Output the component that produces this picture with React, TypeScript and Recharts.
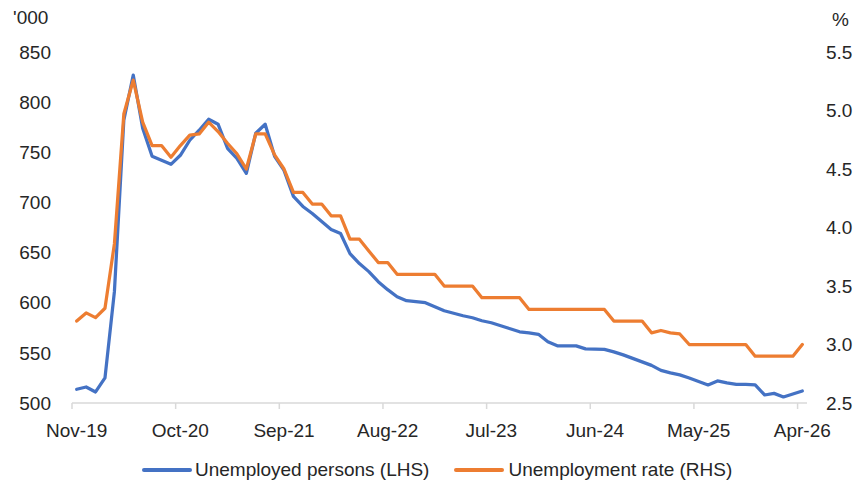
import { LineChart, Line, XAxis, YAxis } from "recharts"

const months = [
  "Nov-19", "Dec-19",
  "Jan-20", "Feb-20", "Mar-20", "Apr-20", "May-20", "Jun-20", "Jul-20", "Aug-20", "Sep-20", "Oct-20", "Nov-20", "Dec-20",
  "Jan-21", "Feb-21", "Mar-21", "Apr-21", "May-21", "Jun-21", "Jul-21", "Aug-21", "Sep-21", "Oct-21", "Nov-21", "Dec-21",
  "Jan-22", "Feb-22", "Mar-22", "Apr-22", "May-22", "Jun-22", "Jul-22", "Aug-22", "Sep-22", "Oct-22", "Nov-22", "Dec-22",
  "Jan-23", "Feb-23", "Mar-23", "Apr-23", "May-23", "Jun-23", "Jul-23", "Aug-23", "Sep-23", "Oct-23", "Nov-23", "Dec-23",
  "Jan-24", "Feb-24", "Mar-24", "Apr-24", "May-24", "Jun-24", "Jul-24", "Aug-24", "Sep-24", "Oct-24", "Nov-24", "Dec-24",
  "Jan-25", "Feb-25", "Mar-25", "Apr-25", "May-25", "Jun-25", "Jul-25", "Aug-25", "Sep-25", "Oct-25", "Nov-25", "Dec-25",
  "Jan-26", "Feb-26", "Mar-26", "Apr-26",
]

// thousands of persons (left axis)
const unemployed = [
  513.7, 516, 511, 525, 611, 782, 827, 774, 746, 742,
  738, 747, 762, 772, 783, 778, 754, 744, 729, 769,
  778, 746, 732, 706, 696, 689, 681, 673, 669, 649,
  639, 631, 621, 613, 606, 602, 601, 600, 596, 592,
  589.5, 587, 585, 582, 580, 577, 574, 571, 570, 568.5,
  561, 557, 557, 557, 554, 553.7, 553.5, 551, 548, 544.5,
  541, 537.5, 532.5, 530, 528, 525, 521.5, 518, 522, 520,
  518.5, 518.5, 518, 508, 509.6, 506, 509, 512,
]

// per cent (right axis)
const rate = [
  3.2, 3.27, 3.23, 3.31, 3.86, 4.97, 5.26, 4.9, 4.7, 4.7,
  4.6, 4.7, 4.79, 4.8, 4.9, 4.82, 4.72, 4.63, 4.5, 4.8,
  4.8, 4.62, 4.5, 4.3, 4.3, 4.2, 4.2, 4.1, 4.1, 3.9,
  3.9, 3.8, 3.7, 3.7, 3.6, 3.6, 3.6, 3.6, 3.6, 3.5,
  3.5, 3.5, 3.5, 3.4, 3.4, 3.4, 3.4, 3.4, 3.3, 3.3,
  3.3, 3.3, 3.3, 3.3, 3.3, 3.3, 3.3, 3.2, 3.2, 3.2,
  3.2, 3.1, 3.12, 3.1, 3.09, 3.0, 3.0, 3.0, 3.0, 3.0,
  3.0, 3.0, 2.9, 2.9, 2.9, 2.9, 2.9, 3.0,
]

const xTicks = [0, 11, 22, 33, 44, 55, 66, 77]
const leftTicks = [500, 550, 600, 650, 700, 750, 800, 850]
const rightTicks = [2.5, 3.0, 3.5, 4.0, 4.5, 5.0, 5.5]

const data = months.map((m, i) => ({ idx: i, month: m, persons: unemployed[i], rate: rate[i] }))

const W = 861
const H = 485
const LEFT_W = 72
const RIGHT_W = 54
const STEP = (W - LEFT_W - RIGHT_W) / months.length

const FONT = "'Liberation Sans', Arial, sans-serif"
const TEXT = "#262626"
const AXIS = "#d9d9d9"
const BLUE = "#4472C4"
const ORANGE = "#ED7D31"

// label sits under the month, tick mark sits on the boundary before it (Excel style)
function MonthTick(props: any) {
  const { x, y, payload } = props
  const tx = x - STEP / 2
  return (
    <g>
      <line x1={tx} x2={tx} y1={y} y2={y + 6} stroke={AXIS} strokeWidth={1.5} />
      <text x={x} y={y + 34} textAnchor="middle" fill={TEXT} fontSize={19} fontFamily={FONT}>
        {months[payload.value]}
      </text>
    </g>
  )
}

const unitLabel = (txt: string, x: number, y: number) => () => (
  <text x={x} y={y} fill={TEXT} fontSize={19} fontFamily={FONT}>
    {txt}
  </text>
)

export default function App() {
  return (
    <div style={{ position: "absolute", left: 0, top: 0, width: W, height: H, background: "#fff" }}>
      <LineChart width={W} height={H} data={data} margin={{ top: 52, right: 0, bottom: 42, left: 0 }}>
        <XAxis
          dataKey="idx"
          type="number"
          domain={[-0.5, months.length - 0.5]}
          ticks={xTicks}
          interval={0}
          height={40}
          axisLine={{ stroke: AXIS, strokeWidth: 1.5 }}
          tickLine={false}
          tickSize={0}
          tickMargin={0}
          tick={<MonthTick />}
        />
        <YAxis
          yAxisId="left"
          orientation="left"
          width={LEFT_W}
          domain={[500, 850]}
          ticks={leftTicks}
          interval={0}
          axisLine={false}
          tickLine={false}
          tickSize={0}
          tickMargin={21}
          tick={{ fill: TEXT, fontSize: 19, fontFamily: FONT }}
          label={unitLabel("'000", 13, 24)}
        />
        <YAxis
          yAxisId="right"
          orientation="right"
          width={RIGHT_W}
          domain={[2.5, 5.5]}
          ticks={rightTicks}
          interval={0}
          axisLine={false}
          tickLine={false}
          tickSize={0}
          tickMargin={19}
          tickFormatter={(v: number) => v.toFixed(1)}
          tick={{ fill: TEXT, fontSize: 19, fontFamily: FONT }}
          label={unitLabel("%", 832, 26)}
        />
        <Line
          yAxisId="left"
          type="linear"
          dataKey="persons"
          name="Unemployed persons (LHS)"
          stroke={BLUE}
          strokeWidth={3.25}
          strokeLinejoin="round"
          strokeLinecap="round"
          dot={false}
          activeDot={false}
          isAnimationActive={false}
        />
        <Line
          yAxisId="right"
          type="linear"
          dataKey="rate"
          name="Unemployment rate (RHS)"
          stroke={ORANGE}
          strokeWidth={3.25}
          strokeLinejoin="round"
          strokeLinecap="round"
          dot={false}
          activeDot={false}
          isAnimationActive={false}
        />
      </LineChart>
      <div
        style={{
          position: "absolute",
          left: 142,
          top: 458,
          height: 24,
          display: "flex",
          alignItems: "center",
          fontFamily: FONT,
          fontSize: 19,
          color: TEXT,
          whiteSpace: "nowrap",
        }}
      >
        <span style={{ width: 50, height: 3.5, background: BLUE, borderRadius: 2, marginRight: 3 }} />
        <span style={{ marginRight: 25 }}>Unemployed persons (LHS)</span>
        <span style={{ width: 50, height: 3.5, background: ORANGE, borderRadius: 2, marginRight: 4 }} />
        <span>Unemployment rate (RHS)</span>
      </div>
    </div>
  )
}
